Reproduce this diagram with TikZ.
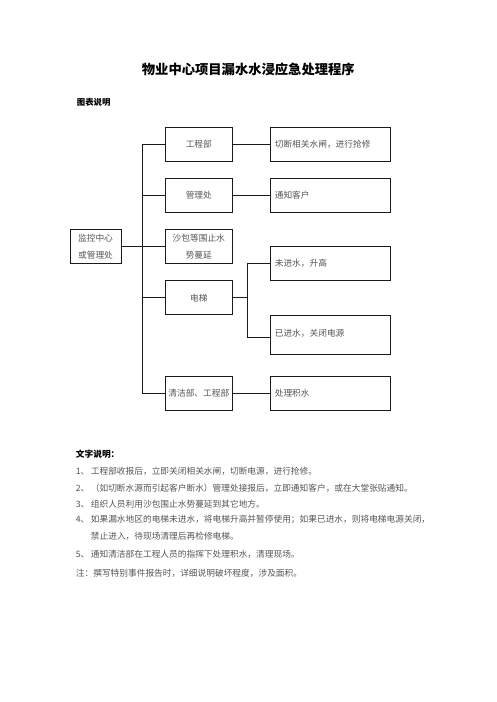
\documentclass[tikz,border=0pt]{standalone}
\usepackage{fontspec}
\newfontfamily\cjk{Noto Sans CJK SC}
\definecolor{ink}{HTML}{1A1A1A}
\definecolor{textgray}{HTML}{555555}
\usetikzlibrary{positioning, calc}

\begin{document}
\begin{tikzpicture}[
    x=1pt, y=-1pt,
    % Node styles
    dept box/.style={
        draw=ink,
        line width=0.9pt,
        minimum width=67pt,
        minimum height=34pt,
        inner sep=0pt,
        align=center,
        text=textgray,
        font=\cjk\fontsize{8.7}{17}\selectfont
    },
    action box/.style={
        draw=ink,
        line width=0.9pt,
        minimum height=34pt,
        inner xsep=4.5pt,
        inner ysep=0pt,
        text width=111pt,
        align=left,
        text=textgray,
        font=\cjk\fontsize{8.7}{17}\selectfont
    },
    link/.style={
        draw=ink,
        line width=0.9pt
    },
    heading/.style={
        anchor=west,
        inner sep=0pt,
        text=black,
        font=\cjk\bfseries\fontsize{8.4}{10}\selectfont
    },
    body line/.style={
        anchor=west,
        inner sep=0pt,
        text=textgray,
        font=\cjk\fontsize{8.7}{10}\selectfont
    }
]
\useasboundingbox (0,0) rectangle (496,702);

% Column positions
\def\deptx{198.8}
\def\actx{330.3}
\def\trunkx{142.3}
\def\forkx{247.3}

% Title and heading
\node[font=\cjk\bfseries\fontsize{13.3}{16}\selectfont] (title) at (248.3,69) {物业中心项目漏水水浸应急处理程序};
\node[heading] (chart head) at (76.7,102.3) {图表说明};

% Source
\node[dept box, minimum width=51pt] (monitor) at (95.5,246.3) {监控中心\\或管理处};

% Departments
\node[dept box] (eng) at (\deptx,144.2) {工程部};
\node[dept box] (mgmt) at (\deptx,195.3) {管理处};
\node[dept box] (sandbag) at (\deptx,246.3) {沙包等围止水\\势蔓延};
\node[dept box] (lift) at (\deptx,297.7) {电梯};
\node[dept box] (clean) at (\deptx,393.5) {清洁部、工程部};

% Actions
\node[action box] (cut) at (\actx,144.2) {切断相关水闸，进行抢修};
\node[action box] (notify) at (\actx,195.3) {通知客户};
\node[action box] (dry) at (\actx,263.3) {未进水，升高};
\node[action box, minimum height=39pt] (flooded) at (\actx,334.8) {\raisebox{4pt}{已进水，关闭电源}};
\node[action box] (mop) at (\actx,393.5) {处理积水};

% Trunk and branches
\coordinate (trunk) at (\trunkx,0);
\draw[link] (eng.west -| trunk) -- (clean.west -| trunk);
\draw[link] (monitor) -- (sandbag);
\foreach \n in {eng, mgmt, lift, clean} {
    \draw[link] (\n.west -| trunk) -- (\n.west);
}

% Department -> action
\draw[link] (eng) -- (cut);
\draw[link] (mgmt) -- (notify);
\draw[link] (clean) -- (mop);

% Lift fork
\coordinate (fork) at (\forkx,297.7);
\draw[link] (lift.east) -- (fork);
\draw[link] (dry.west) -| (fork) |- ([yshift=-2.5pt]flooded.west);

% Text notes
\node[heading, font=\cjk\bfseries\fontsize{8.7}{10}\selectfont] (notes head) at (75.7,453.7) {文字说明：};
\node[body line] (note 1) at (75.7,471.7) {1、\,工程部收报后，立即关闭相关水闸，切断电源，进行抢修。};
\node[body line] (note 2) at (75.7,488.3) {2、\,（如切断水源而引起客户断水）管理处接报后，立即通知客户，或在大堂张贴通知。};
\node[body line] (note 3) at (75.7,504.3) {3、\,组织人员利用沙包围止水势蔓延到其它地方。};
\node[body line] (note 4) at (75.7,520) {4、\,如果漏水地区的电梯未进水，将电梯升高并暂停使用；如果已进水，则将电梯电源关闭，};
\node[body line] (note 4b) at (90.7,536.7) {禁止进入，待现场清理后再检修电梯。};
\node[body line] (note 5) at (75.7,554.3) {5、\,通知清洁部在工程人员的指挥下处理积水，清理现场。};
\node[body line] (remark) at (75.7,573.3) {注：撰写特别事件报告时，详细说明破坏程度，涉及面积。};

\end{tikzpicture}
\end{document}
